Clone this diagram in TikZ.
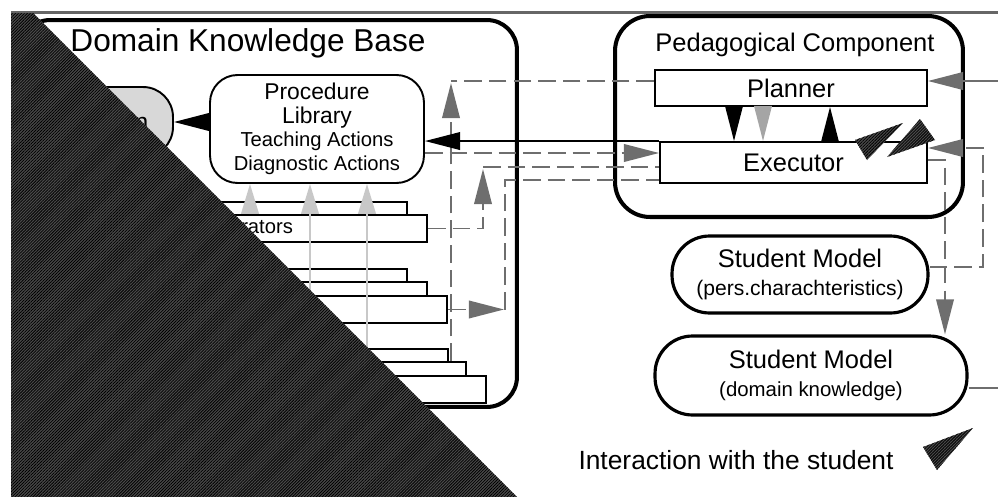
\documentclass[tikz,border=0pt]{standalone}
\usepackage{fontspec}
\setmainfont{Liberation Sans}
\usetikzlibrary{arrows.meta, patterns.meta}
\definecolor{linegrey}{RGB}{110, 110, 110}
\definecolor{feedgrey}{RGB}{200, 200, 200}
\definecolor{midgrey}{RGB}{165, 165, 165}
\definecolor{boxgrey}{RGB}{216, 216, 216}
\definecolor{hatchgrey}{RGB}{75, 75, 75}

\begin{document}
\begin{tikzpicture}[
  x=0.02cm, y=-0.02cm,
  container/.style={draw, line width=2.3pt, rounded corners=0.6cm, inner sep=0pt},
  module/.style={draw, line width=1.1pt, fill=white, inner sep=0pt, font=\fontsize{14.5}{17}\selectfont},
  card/.style={draw, line width=1.1pt, fill=white, minimum width=7.16cm, minimum height=0.54cm, inner sep=0pt, font=\fontsize{11.5}{13}\selectfont},
  stmodel/.style={draw, line width=1.8pt, fill=white, rounded corners=0.75cm, align=center, inner sep=0pt, font=\fontsize{14.5}{15}\selectfont},
  tip/.style={-{Triangle[length=20pt, width=10pt]}},
  flow/.style={draw=linegrey, line width=1.1pt, dash pattern=on 10pt off 4pt},
  feed/.style={draw=feedgrey, line width=1.1pt, -{Triangle[length=17pt, width=10pt]}},
  hatch/.style={fill=hatchgrey, postaction={pattern={Lines[angle=45, distance=1.2pt, line width=0.45pt]}, pattern color=black}}
]
  \useasboundingbox (0,0) rectangle (998,497);

  % containers
  \node[container, minimum width=9.94cm, minimum height=7.74cm] (dkb) at (268.5,213.5) {};
  \node[font=\fontsize{18}{21}\selectfont] (dkbtitle) at (248,43) {Domain Knowledge Base};
  \node[container, rounded corners=0.7cm, minimum width=6.96cm, minimum height=4.02cm] (pc) at (789,116.5) {};
  \node[font=\fontsize{14.5}{17}\selectfont] (pctitle) at (795,45) {Pedagogical Component};

  % domain side
  \node[draw, line width=1.1pt, fill=boxgrey, rounded corners=0.6cm, minimum width=2.68cm, minimum height=1.4cm, font=\fontsize{14}{16}\selectfont] (dom) at (106,122) {Domain};
  \node[draw, line width=1.1pt, fill=white, rounded corners=0.55cm, minimum width=4.28cm, minimum height=2.16cm, align=center, font=\fontsize{13}{13.4}\selectfont] (proclib) at (317,129) {Procedure\\Library\\{\fontsize{11.5}{13.4}\selectfont Teaching Actions}\\{\fontsize{11.5}{13.4}\selectfont Diagnostic Actions}};
  \draw[line width=1.1pt, tip] (proclib.west |- dom.east) -- (dom.east);

  \node[card] (A1) at (228,215.5) {};
  \node[card] (A2) at (248,228.5) {Operators};
  \node[card] (B1) at (228,282.5) {};
  \node[card] (B2) at (248,295.5) {};
  \node[card] (B3) at (268,309.5) {};
  \node[card] (C1) at (269,362.5) {};
  \node[card] (C2) at (287,375.5) {};
  \node[card] (C3) at (307,389.5) {};

  \draw[feed] (250,0 |- A2.north) -- (250,0 |- proclib.south);
  \draw[feed] (310,0 |- B3.north) -- (310,0 |- proclib.south);
  \draw[feed] (367,0 |- C3.north) -- (367,0 |- proclib.south);

  % pedagogical side
  \node[module, minimum width=5.44cm, minimum height=0.72cm] (plan) at (791,88) {Planner};
  \node[module, minimum width=5.34cm, minimum height=0.82cm] (exec) at (793.5,162.5) {Executor};
  \draw[tip, line width=1pt] (734,0 |- plan.south) -- (734,0 |- exec.north);
  \draw[tip, line width=1pt, midgrey] (763,0 |- plan.south) -- (763,0 |- exec.north);
  \draw[tip, line width=1pt] (830,0 |- exec.north) -- (830,0 |- plan.south);

  \node[stmodel, minimum width=5.12cm, minimum height=1.54cm] (sm1) at (800,274.5) {Student Model\\[1pt]{\fontsize{12}{14}\selectfont(pers.charachteristics)}};
  \node[stmodel, minimum width=6.24cm, minimum height=1.58cm] (sm2) at (811,375.5) {Student Model\\[1pt]{\fontsize{11.6}{14}\selectfont(domain knowledge)}};

  % connectors
  \draw[flow] (plan.west |- 0,81) -- (451,81);
  \draw[flow, tip, linegrey] (451,0 |- C2.north) -- (451,83);
  \draw[line width=1.1pt, tip] (exec.north west) -- (proclib.east |- exec.north west);
  \draw[flow, tip, linegrey] (proclib.east |- 0,153) -- (exec.west |- 0,153);
  \draw[flow, tip, linegrey] (A2.east) -| (483,169);
  \draw[flow] (483,167) -- (exec.west |- 0,167);
  \draw[flow, tip, linegrey] (B3.east) -- (504,0 |- B3.east);
  \draw[flow] (505,0 |- B3.east) |- (exec.west |- 0,180);

  \coordinate (inplan) at (998,81);
  \coordinate (outsm) at (998,388);
  \draw[line width=1.1pt, linegrey, tip] (inplan) -- (plan.east |- inplan);
  \draw[flow, tip, linegrey] (sm1.east |- 0,267) -| (983,148) -- (exec.east |- 0,148);
  \draw[flow, tip, linegrey] (exec.east |- 0,160) -| (945,0 |- sm2.north);
  \draw[line width=1.1pt, linegrey] (sm2.east |- outsm) -- (outsm);

  % interaction with the student
  \fill[hatch] (855,140) -- (903,123) -- (867,160) -- cycle;
  \fill[hatch] (887,157) -- (920,119) -- (935,140) -- cycle;
  \node[font=\fontsize{15}{18}\selectfont] (legend) at (736,460) {Interaction with the student};
  \fill[hatch] (923,447) -- (973,428) -- (937,470) -- cycle;

  % cover
  \draw[line width=1.7pt, black!60] (11,12.5) -- (998,12.5);
  \fill[hatch] (11,13) -- (33,13) -- (517,497) -- (11,497) -- cycle;
\end{tikzpicture}
\end{document}
